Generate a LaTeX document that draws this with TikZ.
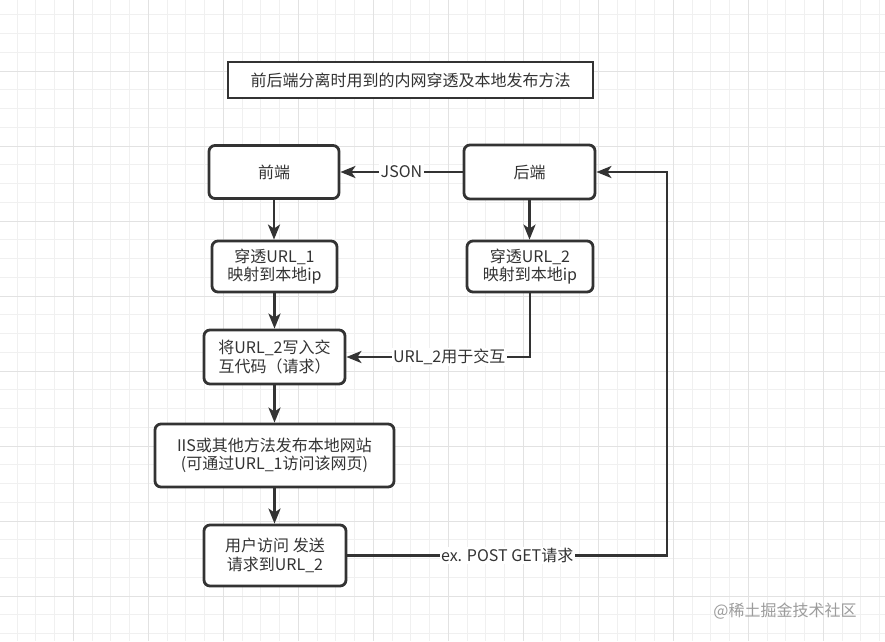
\documentclass[tikz,border=0pt]{standalone}
\usepackage{fontspec}
\setmainfont{Noto Sans CJK SC}
\usetikzlibrary{arrows.meta,calc}
\definecolor{ink}{HTML}{333333}
\definecolor{gridminor}{HTML}{F0F0F0}
\definecolor{gridmajor}{HTML}{E2E2E2}
\definecolor{wmark}{HTML}{9C9C9C}
\newcommand\myfs{\fontsize{16}{18.5}\selectfont}
\begin{document}
\begin{tikzpicture}[x=1pt,y=-1pt,
  box/.style={draw=ink, line width=2.8pt, fill=white, rounded corners=6pt, inner sep=0pt, align=center, text=ink, font=\myfs},
  titlebox/.style={draw=ink, line width=2.8pt, fill=white, inner sep=0pt, align=center, text=ink, font=\myfs},
  conn/.style={draw=ink, line width=2.8pt, -{Stealth[length=15pt,width=12pt,inset=4pt]}},
  lbl/.style={fill=white, text=ink, font=\myfs, inner sep=1.5pt}]
\useasboundingbox (0,0) rectangle (885,641);
\fill[white] (0,0) rectangle (885,641);
% grid
\foreach \i in {0,...,47} {\draw[gridminor, line width=1pt] (17.05+18.75*\i,0) -- (17.05+18.75*\i,641);}
\foreach \i in {0,...,34} {\draw[gridminor, line width=1pt] (0,14.75+18.75*\i) -- (885,14.75+18.75*\i);}
\foreach \i in {0,...,11} {\draw[gridmajor, line width=1pt] (73.3+75*\i,0) -- (73.3+75*\i,641);}
\foreach \i in {0,...,8} {\draw[gridmajor, line width=1pt] (0,71+75*\i) -- (885,71+75*\i);}
% nodes
\node[titlebox, minimum width=365pt, minimum height=36pt] (title) at (410.5,80) {前后端分离时用到的内网穿透及本地发布方法};
\node[box, minimum width=130pt, minimum height=53pt] (qd) at (274,172) {前端};
\node[box, minimum width=131pt, minimum height=54pt] (hd) at (529.5,172) {后端};
\node[box, minimum width=125pt, minimum height=51pt] (ct1) at (274.5,266.5) {穿透URL\_1\\映射到本地ip};
\node[box, minimum width=126pt, minimum height=51pt] (ct2) at (530,266.5) {穿透URL\_2\\映射到本地ip};
\node[box, minimum width=141pt, minimum height=54pt] (jg) at (274.5,357) {将URL\_2写入交\\互代码（请求）};
\node[box, minimum width=239pt, minimum height=63pt] (iis) at (274.5,455.5) {IIS或其他方法发布本地网站\\(可通过URL\_1访问该网页)};
\node[box, minimum width=142pt, minimum height=61pt] (yh) at (275,555.5) {用户访问 发送\\请求到URL\_2};
\coordinate (rc) at (667,172);
% connectors
\draw[conn] (hd.west) -- node[lbl] {JSON} (qd.east);
\draw[conn] (qd.south) -- (qd.south |- ct1.north);
\draw[conn] (ct1.south) -- (ct1.south |- jg.north);
\draw[conn] (jg.south) -- (jg.south |- iis.north);
\draw[conn] (iis.south) -- (iis.south |- yh.north);
\draw[conn] (hd.south) -- (hd.south |- ct2.north);
\draw[conn] (ct2.south) |- node[lbl, pos=0.72] {URL\_2用于交互} (jg.east);
\draw[conn] (yh.east) -| node[lbl, pos=0.25] {ex. POST GET请求} (rc) -- (hd.east);
% watermark
\node[text=wmark, font=\fontsize{16}{18}\selectfont, inner sep=0pt] (wm) at (785,611.5) {@稀土掘金技术社区};
\end{tikzpicture}
\end{document}
